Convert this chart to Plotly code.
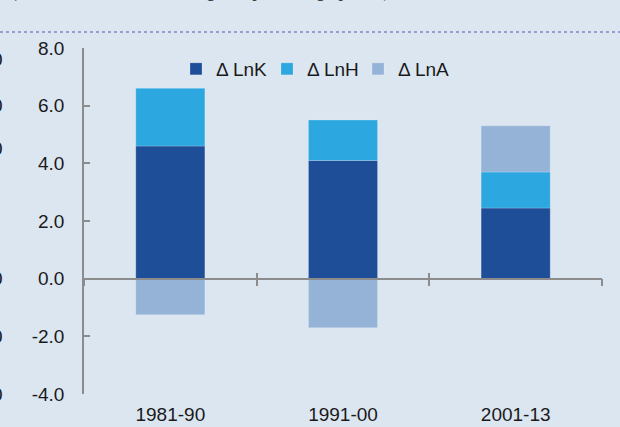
import plotly.graph_objects as go

# ---- data ----
periods = ["1981-90", "1991-00", "2001-13"]
d_lnk = [4.6, 4.1, 2.45]
d_lnh = [2.0, 1.4, 1.25]
d_lna = [-1.25, -1.7, 1.6]
series_names = ["Δ LnK", "Δ LnH", "Δ LnA"]
y_ticks = [-4, -2, 0, 2, 4, 6, 8]
caption = "(Contributions to the change, in percentage points)"
edge_fragments_y = [7.6, 6.0, 4.5, 0.0, -2.0, -4.0]

# ---- style ----
colors = ["#1F4E99", "#2CA7DF", "#95B3D7"]
BG = "#DCE6F1"
AXC = "#8C8C8C"
FONT = "Liberation Sans, Arial, sans-serif"
W, H = 620, 427
L, R, T, B = 84, 18, 48, 33
pw = W - L - R
ph = H - T - B

fig = go.Figure()
for name, vals, c in zip(series_names, [d_lnk, d_lnh, d_lna], colors):
    fig.add_trace(go.Bar(
        x=periods, y=vals, name=name, width=0.4,
        marker=dict(color=c, line=dict(width=0.8, color="rgba(255,255,255,0.25)")),
    ))

# invisible helper traces so the crossing tick axes along y=0 are drawn
for ax in ["x2", "x3"]:
    fig.add_trace(go.Scatter(
        x=periods, y=[0] * len(periods), xaxis=ax, mode="markers",
        marker=dict(opacity=0), showlegend=False, hoverinfo="skip",
    ))

zero_pos = (0 - y_ticks[0]) / (y_ticks[-1] - y_ticks[0])

fig.update_layout(
    width=W, height=H,
    margin=dict(l=L, r=R, t=T, b=B, pad=0, autoexpand=False),
    paper_bgcolor=BG, plot_bgcolor=BG,
    barmode="relative",
    font=dict(family=FONT, size=19, color="#1a1a1a"),
    showlegend=True,
    legend=dict(
        orientation="h", x=(176 - L) / pw, y=(H - B - 69) / ph,
        xanchor="left", yanchor="middle",
        bgcolor="rgba(0,0,0,0)", traceorder="normal",
        font=dict(size=19, family=FONT, color="#1a1a1a"),
        itemwidth=30, entrywidth=46,
    ),
    xaxis=dict(
        type="category", range=[-0.5, 2.5], showline=False, ticks="",
        showgrid=False, zeroline=False, automargin=False,
        tickfont=dict(size=19, family=FONT, color="#1a1a1a"),
        ticklabelstandoff=7,
    ),
    xaxis2=dict(
        type="category", overlaying="x", matches="x", anchor="free",
        position=zero_pos, side="bottom", automargin=False,
        showline=True, linecolor=AXC, linewidth=1.5,
        ticks="outside", ticklen=7, tickwidth=1.5, tickcolor=AXC,
        tickson="boundaries", showticklabels=False, showgrid=False,
    ),
    xaxis3=dict(
        type="category", overlaying="x", matches="x", anchor="free",
        position=zero_pos, side="bottom", automargin=False,
        showline=False,
        ticks="inside", ticklen=6, tickwidth=1.5, tickcolor=AXC,
        tickson="boundaries", showticklabels=False, showgrid=False,
    ),
    yaxis=dict(
        range=[y_ticks[0], y_ticks[-1]], automargin=False,
        tickvals=y_ticks, ticktext=[f"{v:.1f}" for v in y_ticks],
        ticks="inside", ticklen=6, tickwidth=1.5, tickcolor=AXC,
        showline=True, linecolor=AXC, linewidth=1.5,
        showgrid=False, zeroline=False,
        ticklabelstandoff=14,
        tickfont=dict(size=19, family=FONT, color="#1a1a1a"),
    ),
)

# clipped caption from the report above the chart
fig.add_annotation(
    text=caption, xref="paper", yref="paper",
    x=(10 - L) / pw, y=1, xanchor="left", yanchor="middle", yshift=T + 9,
    showarrow=False,
    font=dict(family="Liberation Serif, Times New Roman, serif", size=18.5,
              color="#333333", style="italic"),
)

# dotted rule separating caption from chart
fig.add_shape(
    type="line", xref="paper", yref="paper",
    x0=-L / pw, x1=1 + R / pw, y0=1 + (T - 32) / ph, y1=1 + (T - 32) / ph,
    line=dict(color="#7F86C8", width=1.5, dash="dot"),
)

# label fragments of a neighbouring chart, cut at the left edge
for yv in edge_fragments_y:
    fig.add_annotation(
        text="0", xref="paper", yref="y", x=(5 - L) / pw, y=yv,
        xanchor="right", yanchor="middle", showarrow=False,
        font=dict(family=FONT, size=19, color="#1a1a1a"),
    )

fig.write_html(
    "out.html",
    config={"displayModeBar": False},
    post_script="document.body.style.margin='0';document.documentElement.style.margin='0';document.body.style.overflow='hidden';",
)
